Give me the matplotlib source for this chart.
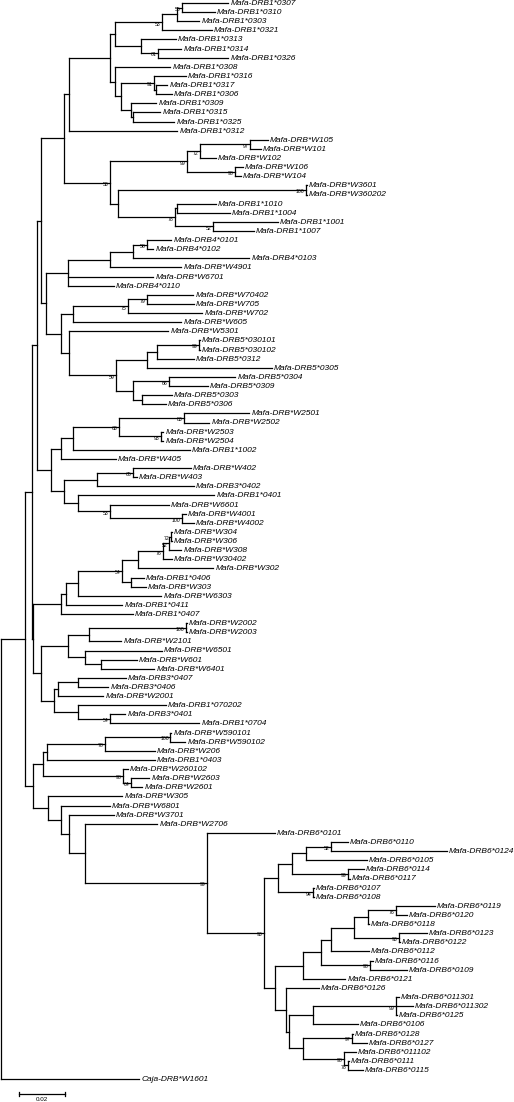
import matplotlib
matplotlib.use("Agg")
import matplotlib.pyplot as plt

# Tree in Newick form. The number after ':' is the distance of the node from
# the root (x 1e-3 substitutions/site); the number before ':' is the bootstrap.

DRB1_03_A = ("(((Mafa-DRB1*0307:97.6,Mafa-DRB1*0310:92.0)55:77.9,Mafa-DRB1*0303:85.2):75.8,"
             "Mafa-DRB1*0321:90.7)53:69.3")
DRB1_03_B = "(Mafa-DRB1*0313:75.3,(Mafa-DRB1*0314:77.5,Mafa-DRB1*0326:97.6)61:67.6):60.3"
DRB1_03_E = ("(Mafa-DRB1*0308:72.8,((Mafa-DRB1*0316:79.6,(Mafa-DRB1*0317:71.5,Mafa-DRB1*0306:73.6):66.8)91:65.9,"
             "(Mafa-DRB1*0309:66.8,(Mafa-DRB1*0315:68.5,Mafa-DRB1*0325:74.5):56.9):56.1):51.8):49.2")
DRB1_03 = f"((({DRB1_03_A},{DRB1_03_B}):49.2,{DRB1_03_E}):46.7,Mafa-DRB1*0312:75.8):29.5"

W1 = ("(((Mafa-DRB*W105:114.7,Mafa-DRB*W101:111.7)97:107.0,Mafa-DRB*W102:92.4)72:85.6,"
      "(Mafa-DRB*W106:104.0,Mafa-DRB*W104:103.1)98:100.6)99:80.0")
DRB1_10 = ("((Mafa-DRB*W3601:131.4,Mafa-DRB*W360202:131.4)100:131.0,"
           "((Mafa-DRB1*1010:92.4,Mafa-DRB1*1004:98.4):75.8,"
           "(Mafa-DRB1*1001:119.0,Mafa-DRB1*1007:108.7)52:91.2)78:74.9):50.5")
UPPER_1 = f"({DRB1_03},({W1},{DRB1_10})53:47.1):27.0"

DRB4 = ("(((Mafa-DRB4*0101:73.2,Mafa-DRB4*0102:65.5)58:62.9,Mafa-DRB4*0103:106.6):56.9,"
        "Mafa-DRB*W4901:77.5):47.1")
DRB4_ALL = f"({DRB4},Mafa-DRB*W6701:65.5,Mafa-DRB4*0110:48.4):28.7"
W7 = ("(((Mafa-DRB*W70402:82.6,Mafa-DRB*W705:83.0)79:62.9,Mafa-DRB*W702:86.5)75:54.8,"
      "Mafa-DRB*W605:77.5):31.2")
DRB5 = ("(Mafa-DRB*W5301:71.9,((((Mafa-DRB5*030101:85.4,Mafa-DRB5*030102:85.4)99:85.0,"
        "Mafa-DRB5*0312:83.0):67.2,Mafa-DRB5*0305:116.4):62.9,"
        "((Mafa-DRB5*0304:100.6,Mafa-DRB5*0309:89.0)66:72.3,"
        "(Mafa-DRB5*0303:73.6,Mafa-DRB5*0306:71.0):60.8):56.9)59:49.6):29.5")
UPPER_2 = f"({DRB4_ALL},({W7},{DRB5}):25.7):19.3"

W25 = ("((((Mafa-DRB*W2501:106.6,Mafa-DRB*W2502:89.5)83:78.8,"
       "(Mafa-DRB*W2503:69.8,Mafa-DRB*W2504:69.8)93:68.9)63:50.9,"
       "Mafa-DRB1*1002:81.3):31.2,Mafa-DRB*W405:49.6):25.7")
W40 = ("(((Mafa-DRB*W402:81.7,Mafa-DRB*W403:58.6)65:56.9,Mafa-DRB3*0402:83.0):41.5,"
       "(Mafa-DRB1*0401:91.6,(Mafa-DRB*W6601:72.3,"
       "(Mafa-DRB*W4001:79.6,Mafa-DRB*W4002:83.0)100:77.9)53:47.1):33.0):27.0")
UPPER = f"(({UPPER_1},{UPPER_2}):17.5,({W25},{W40}):21.8):15.8"

W30 = ("((((((Mafa-DRB*W304:73.6,Mafa-DRB*W306:73.6)72:73.2,Mafa-DRB*W308:77.5)52:72.3,"
       "Mafa-DRB*W30402:73.6)76:69.8,Mafa-DRB*W302:91.2):59.1,"
       "(Mafa-DRB1*0406:61.6,Mafa-DRB*W303:62.1):56.1)54:52.2,Mafa-DRB*W6303:68.9):33.0")
W30_ALL = f"(({W30},Mafa-DRB1*0411:52.2):28.2,Mafa-DRB1*0407:56.9):26.1"
W20 = ("(((Mafa-DRB*W2002:80.0,Mafa-DRB*W2003:80.0)100:79.6,Mafa-DRB*W2101:51.8):38.1,"
       "(Mafa-DRB*W6501:69.3,(Mafa-DRB*W601:58.6,Mafa-DRB*W6401:65.9):43.2):36.0):29.1")
DRB3 = ("(((Mafa-DRB3*0407:53.9,Mafa-DRB3*0406:46.2):33.4,Mafa-DRB*W2001:44.1):24.8,"
        "(Mafa-DRB1*070202:71.0,(Mafa-DRB3*0401:53.5,Mafa-DRB1*0704:85.2)54:47.1):33.0):22.7")
MIDDLE = f"({W30_ALL},({W20},{DRB3}):17.5):14.1"

W59 = ("(((Mafa-DRB*W590101:73.2,Mafa-DRB*W590102:79.2)100:72.8,Mafa-DRB*W206:66.3)78:44.9,"
       "Mafa-DRB1*0403:66.3):20.1")
W26 = "(Mafa-DRB*W260102:54.4,(Mafa-DRB*W2603:63.8,Mafa-DRB*W2601:60.8)64:56.1)98:52.6"
DRB6_A = ("((((Mafa-DRB6*0110:148.9,Mafa-DRB6*0124:191.3)52:141.7,Mafa-DRB6*0105:157.1):131.0,"
          "(Mafa-DRB6*0114:155.8,Mafa-DRB6*0117:149.8)99:148.9):125.0,"
          "(Mafa-DRB6*0107:134.4,Mafa-DRB6*0108:134.4)94:134.0):119.0")
DRB6_B = ("(((((Mafa-DRB6*0119:186.2,Mafa-DRB6*0120:174.2)76:169.5,Mafa-DRB6*0118:157.9):157.5,"
          "(Mafa-DRB6*0123:182.8,Mafa-DRB6*0122:171.2)93:170.8):151.5,Mafa-DRB6*0112:157.9):141.7,"
          "(Mafa-DRB6*0116:159.6,Mafa-DRB6*0109:174.2)98:158.4):137.4")
DRB6_C = ("(((Mafa-DRB6*011301:170.8,Mafa-DRB6*011302:176.8,Mafa-DRB6*0125:169.9)99:169.5,"
          "Mafa-DRB6*0106:153.2):134.0,((Mafa-DRB6*0128:151.1,Mafa-DRB6*0127:157.1)97:150.7,"
          "(Mafa-DRB6*011102:152.4,(Mafa-DRB6*0111:149.4,Mafa-DRB6*0115:155.4)78:148.9)98:147.2):129.7):123.7")
DRB6 = (f"(Mafa-DRB6*0101:117.7,({DRB6_A},(({DRB6_B},Mafa-DRB6*0121:147.7):129.7,"
        f"(Mafa-DRB6*0126:136.5,{DRB6_C}):122.4):117.7)93:113.0)99:88.6")
LOWER_1 = (f"(Mafa-DRB*W305:52.2,(Mafa-DRB*W6801:46.7,(Mafa-DRB*W3701:48.4,"
           f"(Mafa-DRB*W2706:67.2,{DRB6}):36.4):29.5):26.1):20.5")
LOWER = f"(({W59},{W26}):18.4,{LOWER_1}):14.1"

TREE = f"((({UPPER},{MIDDLE}):13.7,{LOWER}):10.7,Caja-DRB*W1601:59.5):0;"

SCALE_LEN = 20.0          # 0.02 substitutions/site
SCALE_LABEL = "0.02"


def parse_newick(text):
    text = text.strip().rstrip(";")
    pos = 0

    def read_node():
        nonlocal pos
        kids = []
        if text[pos] == "(":
            pos += 1
            kids.append(read_node())
            while text[pos] == ",":
                pos += 1
                kids.append(read_node())
            pos += 1  # closing ')'
        start = pos
        while pos < len(text) and text[pos] not in ":,()":
            pos += 1
        label = text[start:pos]
        depth = 0.0
        if pos < len(text) and text[pos] == ":":
            pos += 1
            start = pos
            while pos < len(text) and text[pos] not in ",()":
                pos += 1
            depth = float(text[start:pos])
        return {"label": label, "depth": depth, "kids": kids}

    return read_node()


def assign_y(node, counter):
    if not node["kids"]:
        node["y"] = counter[0]
        counter[0] += 1
    else:
        for kid in node["kids"]:
            assign_y(kid, counter)
        node["y"] = (node["kids"][0]["y"] + node["kids"][-1]["y"]) / 2


LW = 0.9
LINE_KW = dict(color="black", lw=LW, solid_capstyle="projecting")


def draw(ax, node, parent_depth=None):
    x, y = node["depth"], node["y"]
    if parent_depth is not None:
        ax.plot([parent_depth, x], [y, y], **LINE_KW)
    if node["kids"]:
        ax.plot([x, x], [node["kids"][0]["y"], node["kids"][-1]["y"]], **LINE_KW)
        if node["label"]:
            ax.text(x - 0.7, y + 0.2, node["label"], fontsize=3.7, ha="right", va="center",
                    family="Liberation Sans", color="black")
        for kid in node["kids"]:
            draw(ax, kid, x)
    else:
        ax.text(x + 0.8, y + 0.05, node["label"], fontsize=6.0, style="italic",
                ha="left", va="center", family="Liberation Sans")


def main():
    root = parse_newick(TREE)
    counter = [0]
    assign_y(root, counter)
    n_leaves = counter[0]

    fig = plt.figure(figsize=(5.14, 11.02), dpi=100)
    ax = fig.add_axes([0, 0, 1, 1])
    px_per_unit = 46.7 / SCALE_LEN
    px_per_leaf = 9.12
    ax.set_xlim(-0.5 / px_per_unit, (514 - 0.5) / px_per_unit)
    ax.set_ylim((1102 - 3) / px_per_leaf, -3 / px_per_leaf)
    ax.axis("off")

    draw(ax, root)

    # scale bar
    sb_x0, sb_y = 7.8, n_leaves + 0.6
    ax.plot([sb_x0, sb_x0 + SCALE_LEN], [sb_y, sb_y], color="black", lw=0.9)
    for xe in (sb_x0, sb_x0 + SCALE_LEN):
        ax.plot([xe, xe], [sb_y - 0.22, sb_y + 0.22], color="black", lw=0.9)
    ax.text(sb_x0 + SCALE_LEN / 2, sb_y + 0.6, SCALE_LABEL, fontsize=4.5, ha="center",
            va="center", family="Liberation Sans")

    fig.savefig("out.png", dpi=100)
    plt.close(fig)


if __name__ == "__main__":
    main()
